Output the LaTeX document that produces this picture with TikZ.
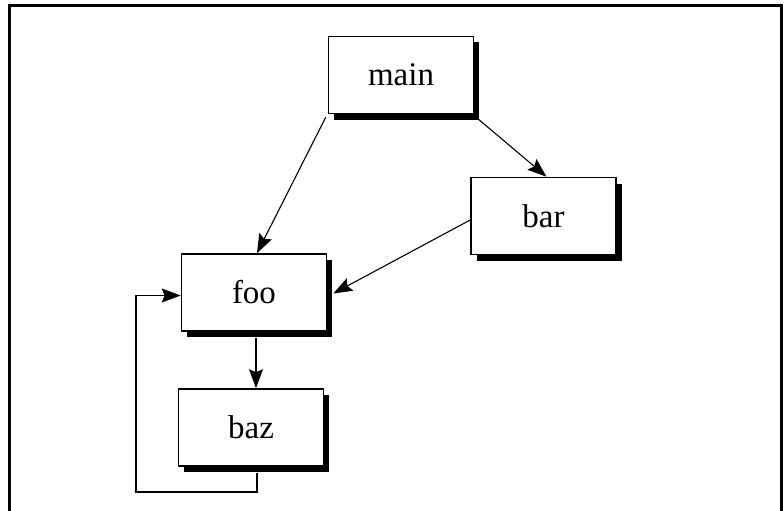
\documentclass[tikz,border=0pt]{standalone}
\usepackage{fontspec}
\setmainfont{Liberation Serif}
\usetikzlibrary{shadows,arrows.meta,calc}
\begin{document}
\begin{tikzpicture}[x=1pt,y=-1pt,
  box/.style={draw, line width=1.6pt, fill=white, minimum width=145pt, minimum height=77pt,
    inner sep=0pt, font=\fontsize{33}{40}\selectfont,
    drop shadow={shadow xshift=5.5pt, shadow yshift=-6pt, opacity=1, fill=black}},
  link/.style={line width=1.1pt, -{Stealth[length=19pt,width=14pt,inset=3pt]}}]
  \useasboundingbox (0,0) rectangle (784,511);
  % open frame
  \draw[line width=3pt] (9,515) -- (9,5.5) -- (781.5,5.5) -- (781.5,515);
  % modules
  \node[box] (main) at (401,75) {main};
  \node[box] (bar) at (543.5,216) {bar};
  \node[box] (foo) at (254,292.5) {foo};
  \node[box] (baz) at (251,427.5) {baz};
  \coordinate (loop) at (136,492);
  % calls
  \draw[link] ($(main.south west)+(-2,3)$) -- ($(foo.north)+(3,0)$);
  \draw[link] ($(main.south east)+(3,4)$) -- ($(bar.north)+(3,0)$);
  \draw[link] ($(bar.west)+(0,4)$) -- ($(foo.east)+(6,1)$);
  \draw[link] ($(foo.south)+(2,6)$) -- ($(baz.north)+(5,0)$);
  \draw[link] ($(baz.south)+(6,6)$) |- (loop) |- ($(foo.west)+(0,3)$);
\end{tikzpicture}
\end{document}
